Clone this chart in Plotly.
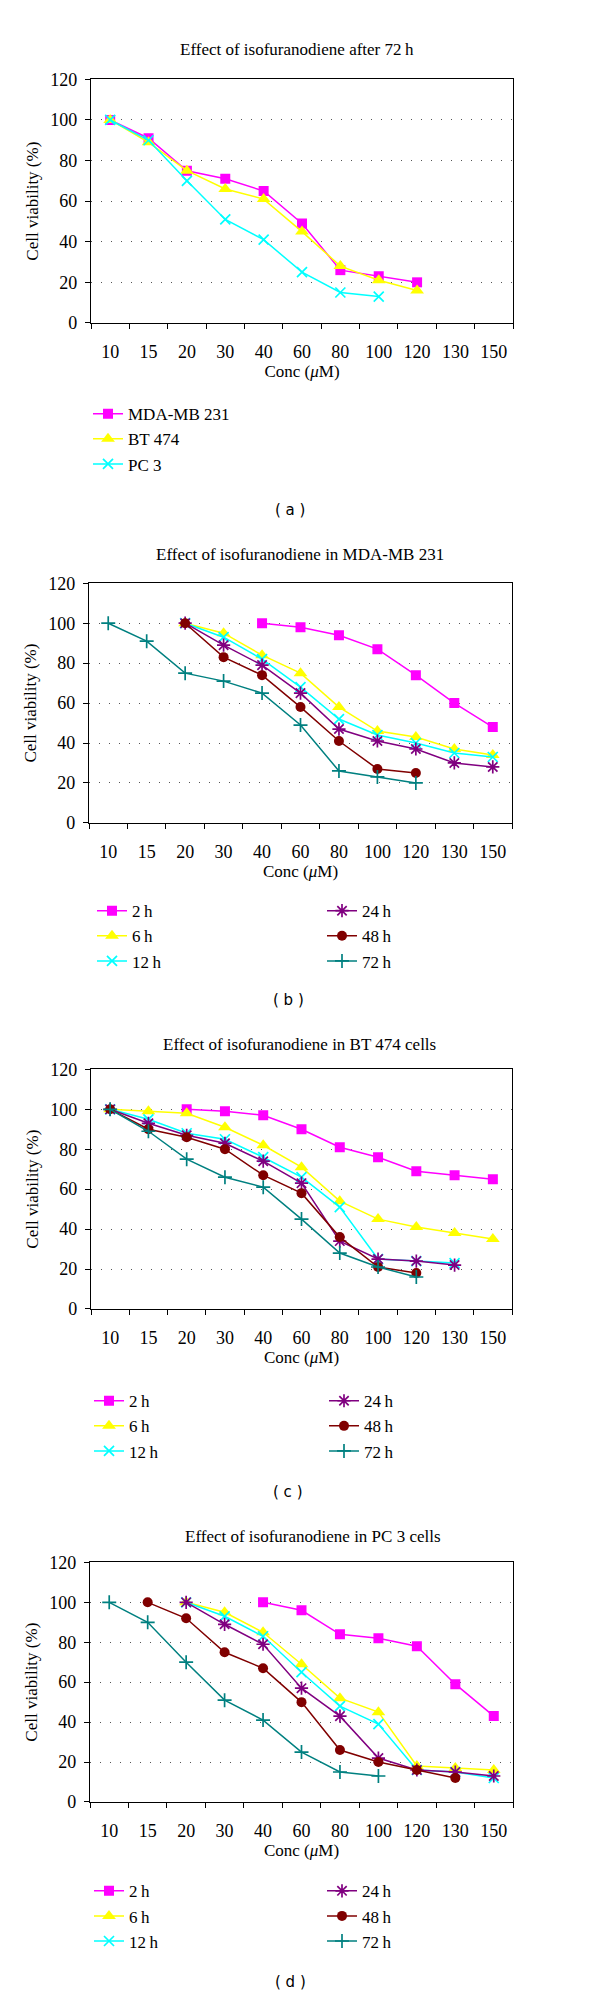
import plotly.graph_objects as go

# ---------------- data ----------------
conc = ["10", "15", "20", "30", "40", "60", "80", "100", "120", "130", "150"]

# panel (a): after 72 h
a_mda = [100, 91, 75, 71, 65, 49, 26, 23, 20, None, None]
a_bt = [100, 89, 75, 66, 61, 45, 28, 21, 16, None, None]
a_pc3 = [100, 90, 70, 51, 41, 25, 15, 13, None, None, None]

# panel (b): MDA-MB 231
b_2h = [None, None, None, None, 100, 98, 94, 87, 74, 60, 48]
b_6h = [None, None, 100, 95, 84, 75, 58, 46, 43, 37, 34]
b_12h = [None, None, 100, 93, 82, 68, 52, 44, 40, 35, 33]
b_24h = [None, None, 100, 89, 79, 65, 47, 41, 37, 30, 28]
b_48h = [None, None, 100, 83, 74, 58, 41, 27, 25, None, None]
b_72h = [100, 91, 75, 71, 65, 49, 26, 23, 20, None, None]

# panel (c): BT 474
c_2h = [None, None, 100, 99, 97, 90, 81, 76, 69, 67, 65]
c_6h = [100, 99, 98, 91, 82, 71, 54, 45, 41, 38, 35]
c_12h = [100, 95, 88, 85, 76, 66, 51, 25, 24, 23, None]
c_24h = [100, 93, 87, 83, 74, 63, 34, 25, 24, 22, None]
c_48h = [100, 90, 86, 80, 67, 58, 36, 21, 18, None, None]
c_72h = [100, 89, 75, 66, 61, 45, 28, 21, 16, None, None]

# panel (d): PC 3
d_2h = [None, None, None, None, 100, 96, 84, 82, 78, 59, 43]
d_6h = [None, None, 100, 95, 85, 69, 52, 45, 18, 17, 16]
d_12h = [None, None, 100, 93, 83, 65, 48, 39, 16, 15, 12]
d_24h = [None, None, 100, 89, 79, 57, 43, 22, 16, 15, 13]
d_48h = [None, 100, 92, 75, 67, 50, 26, 20, 16, 12, None]
d_72h = [100, 90, 70, 51, 41, 25, 15, 13, None, None, None]

titles = ["Effect of isofuranodiene after 72\u2009h",
          "Effect of isofuranodiene in MDA-MB 231",
          "Effect of isofuranodiene in BT 474 cells",
          "Effect of isofuranodiene in PC 3 cells"]
panel_labels = ["( a )", "( b )", "( c )", "( d )"]
time_names = ["2\u2009h", "6\u2009h", "12\u2009h", "24\u2009h", "48\u2009h", "72\u2009h"]
cell_names = ["MDA-MB 231", "BT 474", "PC 3"]

# ---------------- styles ----------------
SERIF = "Liberation Serif"
W, H = 600, 1999
styles = [
    dict(color="#FF00FF", symbol="square", size=10),
    dict(color="#FFFF00", symbol="triangle-up", size=12),
    dict(color="#00FFFF", symbol="x-thin", size=10),
    dict(color="#800080", symbol="asterisk", size=11),
    dict(color="#800000", symbol="circle", size=10),
    dict(color="#008080", symbol="cross-thin", size=10),
]


def mk(y, name, st, xa, ya, legend):
    line_sym = st["symbol"] in ("x-thin", "asterisk", "cross-thin")
    marker = dict(symbol=st["symbol"], size=st["size"], color=st["color"],
                  line=dict(color=st["color"], width=1.7 if line_sym else 0))
    return go.Scatter(x=conc, y=y, name=name, mode="lines+markers",
                      line=dict(color=st["color"], width=1.5), marker=marker,
                      xaxis=xa, yaxis=ya, legend=legend, connectgaps=False)


fig = go.Figure()

# panel a
for y, n, st in zip([a_mda, a_bt, a_pc3], cell_names, styles[:3]):
    fig.add_trace(mk(y, n, st, "x", "y", "legend"))

panels = [
    ([b_2h, b_6h, b_12h, b_24h, b_48h, b_72h], "x2", "y2", "legend2", "legend3"),
    ([c_2h, c_6h, c_12h, c_24h, c_48h, c_72h], "x3", "y3", "legend4", "legend5"),
    ([d_2h, d_6h, d_12h, d_24h, d_48h, d_72h], "x4", "y4", "legend6", "legend7"),
]
for series, xa, ya, l1, l2 in panels:
    for i, (y, n, st) in enumerate(zip(series, time_names, styles)):
        fig.add_trace(mk(y, n, st, xa, ya, l1 if i < 3 else l2))

# pixel boxes of plot areas: (left, right, top, bottom)
boxes = [(83, 505, 62, 308), (81, 504, 571, 813), (83, 504, 1062, 1304), (82, 505, 1560, 1802)]

tickfont = dict(family=SERIF, size=18, color="black")
titlefont = dict(family=SERIF, size=17, color="black")
layout = dict(width=W, height=H, margin=dict(l=0, r=0, t=0, b=0),
              paper_bgcolor="white", plot_bgcolor="white", showlegend=True)

for i, (l, r, t, b) in enumerate(boxes):
    sfx = "" if i == 0 else str(i + 1)
    layout["xaxis" + sfx] = dict(
        domain=[l / W, r / W], anchor="y" + sfx, type="category",
        categoryorder="array", categoryarray=conc, range=[-0.5, 10.5],
        tickson="boundaries", ticks="outside", ticklen=5, tickwidth=1.3,
        tickcolor="black", showline=True, linecolor="black", linewidth=1.3,
        mirror=True, showgrid=False, zeroline=False, tickfont=tickfont,
        ticklabelstandoff=12,
        title=dict(text="Conc (<i>\u03bc</i>M)", font=titlefont, standoff=4),
    )
    layout["yaxis" + sfx] = dict(
        domain=[1 - b / H, 1 - t / H], anchor="x" + sfx, range=[0, 120],
        dtick=20, ticks="outside", ticklen=5, tickwidth=1.3, tickcolor="black",
        showline=True, linecolor="black", linewidth=1.3, mirror=True,
        showgrid=True, gridcolor="#555555", gridwidth=1.4, griddash="1.4px,8.6px",
        zeroline=False, tickfont=tickfont, ticklabelstandoff=4,
        title=dict(text="Cell viability (%)", font=titlefont, standoff=7),
    )

# legends: (legend name, symbol-start x px, first row center y px, row gap)
leg_specs = [("legend", 83, 395, 5), ("legend2", 87, 897, 2), ("legend3", 317, 897, 2),
             ("legend4", 84, 1392, 3), ("legend5", 319, 1392, 3),
             ("legend6", 84, 1887, 3), ("legend7", 317, 1887, 3)]
for name, x, yc, gap in leg_specs:
    layout[name] = dict(x=(x - 3) / W, xanchor="left", y=1 - (yc - 13) / H, yanchor="top",
                        font=dict(family=SERIF, size=17, color="black"),
                        bgcolor="rgba(0,0,0,0)", borderwidth=0, tracegroupgap=gap,
                        traceorder="normal")

fig.update_layout(**layout)
# give each trace its own legendgroup so tracegroupgap applies
for k, tr in enumerate(fig.data):
    tr.legendgroup = "g%d" % k

# titles and panel labels
title_pos = [(289, 32), (292, 542), (291, 1037), (305, 1534)]
label_pos = [(282, 497), (280, 992), (280, 1489), (282, 1984)]
for (tx, ty), text in zip(title_pos, titles):
    fig.add_annotation(x=tx / W, y=1 - ty / H, xref="paper", yref="paper", text=text,
                       showarrow=False, xanchor="center", yanchor="middle",
                       font=dict(family=SERIF, size=17, color="black"))
for (tx, ty), text in zip(label_pos, panel_labels):
    fig.add_annotation(x=tx / W, y=1 - ty / H, xref="paper", yref="paper", text=text,
                       showarrow=False, xanchor="center", yanchor="middle",
                       font=dict(family="DejaVu Sans", size=15, color="black"))

fig.write_html("out.html")
